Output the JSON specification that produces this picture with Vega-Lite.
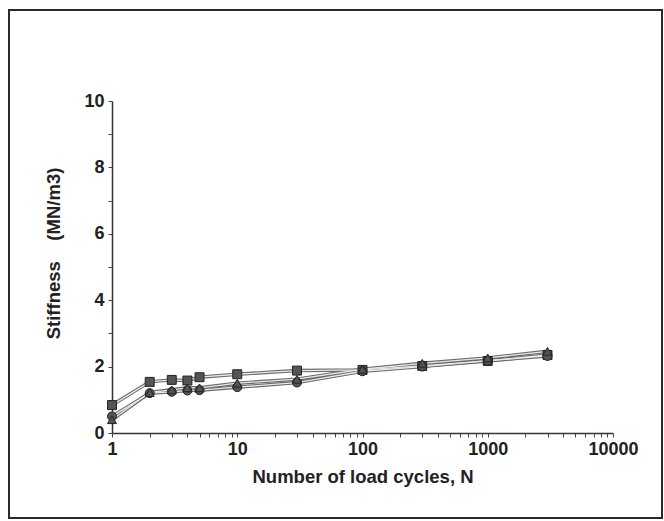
{
  "$schema": "https://vega.github.io/schema/vega-lite/v6.json",
  "width": 653,
  "height": 508,
  "autosize": {"type": "none"},
  "padding": {"left": 9, "top": 10, "right": 2, "bottom": 3},
  "background": "white",
  "config": {
    "view": {"stroke": "#2a2a2a", "strokeWidth": 2},
    "font": "Liberation Sans",
    "axis": {
      "grid": false,
      "domainColor": "#333",
      "domainWidth": 1.5,
      "tickColor": "#444",
      "tickWidth": 1,
      "labelFont": "Liberation Sans",
      "labelFontWeight": "bold",
      "labelFontSize": 18,
      "labelColor": "#222",
      "titleFont": "Liberation Sans",
      "titleFontWeight": "bold",
      "titleFontSize": 18.5,
      "titleColor": "#222"
    }
  },
  "data": {
    "values": [
      {"N": 1, "stiffness": 0.84, "series": "A"},
      {"N": 2, "stiffness": 1.54, "series": "A"},
      {"N": 3, "stiffness": 1.6, "series": "A"},
      {"N": 4, "stiffness": 1.58, "series": "A"},
      {"N": 5, "stiffness": 1.68, "series": "A"},
      {"N": 10, "stiffness": 1.77, "series": "A"},
      {"N": 30, "stiffness": 1.88, "series": "A"},
      {"N": 100, "stiffness": 1.9, "series": "A"},
      {"N": 300, "stiffness": 2.02, "series": "A"},
      {"N": 1000, "stiffness": 2.17, "series": "A"},
      {"N": 3000, "stiffness": 2.35, "series": "A"},
      {"N": 1, "stiffness": 0.5, "series": "B"},
      {"N": 2, "stiffness": 1.2, "series": "B"},
      {"N": 3, "stiffness": 1.24, "series": "B"},
      {"N": 4, "stiffness": 1.28, "series": "B"},
      {"N": 5, "stiffness": 1.29, "series": "B"},
      {"N": 10, "stiffness": 1.38, "series": "B"},
      {"N": 30, "stiffness": 1.52, "series": "B"},
      {"N": 100, "stiffness": 1.86, "series": "B"},
      {"N": 300, "stiffness": 2.0, "series": "B"},
      {"N": 1000, "stiffness": 2.18, "series": "B"},
      {"N": 3000, "stiffness": 2.32, "series": "B"},
      {"N": 1, "stiffness": 0.4, "series": "C"},
      {"N": 2, "stiffness": 1.22, "series": "C"},
      {"N": 3, "stiffness": 1.3, "series": "C"},
      {"N": 4, "stiffness": 1.36, "series": "C"},
      {"N": 5, "stiffness": 1.36, "series": "C"},
      {"N": 10, "stiffness": 1.5, "series": "C"},
      {"N": 30, "stiffness": 1.62, "series": "C"},
      {"N": 100, "stiffness": 1.92, "series": "C"},
      {"N": 300, "stiffness": 2.1, "series": "C"},
      {"N": 1000, "stiffness": 2.26, "series": "C"},
      {"N": 3000, "stiffness": 2.46, "series": "C"}
    ]
  },
  "encoding": {
    "x": {
      "field": "N",
      "type": "quantitative",
      "scale": {"type": "log", "domain": [1, 10000], "range": [103, 604], "nice": false},
      "axis": {
        "title": "Number of load cycles, N",
        "offset": -85,
        "values": [1,2,3,4,5,6,7,8,9,10,20,30,40,50,60,70,80,90,100,200,300,400,500,600,700,800,900,1000,2000,3000,4000,5000,6000,7000,8000,9000,10000],
        "format": "d",
        "labelExpr": "indexof([1,10,100,1000,10000], datum.value) >= 0 ? datum.label : ''",
        "labelOverlap": false,
        "labelFlush": false,
        "tickSize": 4,
        "labelPadding": 3,
        "titlePadding": 9
      }
    },
    "y": {
      "field": "stiffness",
      "type": "quantitative",
      "scale": {"domain": [0, 10], "range": [423, 91], "nice": false, "zero": true},
      "axis": {
        "title": "Stiffness\u00a0\u00a0\u00a0\u00a0(MN/m3)",
        "offset": -103,
        "values": [0,1,2,3,4,5,6,7,8,9,10],
        "labelExpr": "datum.value % 2 == 0 ? datum.label : ''",
        "labelOverlap": false,
        "labelFlush": false,
        "tickSize": 4,
        "labelPadding": 4,
        "titlePadding": 20,
        "titleY": 243
      }
    }
  },
  "layer": [
    {
      "mark": {"type": "line", "stroke": "#6a6a6a", "strokeWidth": 3.5},
      "encoding": {"detail": {"field": "series"}}
    },
    {
      "mark": {"type": "line", "stroke": "#e8e8e8", "strokeWidth": 1.3},
      "encoding": {"detail": {"field": "series"}}
    },
    {
      "mark": {"type": "point", "filled": true, "fill": "#555", "stroke": "#222", "strokeWidth": 1, "size": 80, "opacity": 1},
      "encoding": {
        "shape": {
          "field": "series",
          "scale": {"domain": ["A", "B", "C"], "range": ["square", "circle", "triangle-up"]},
          "legend": null
        }
      }
    }
  ]
}
